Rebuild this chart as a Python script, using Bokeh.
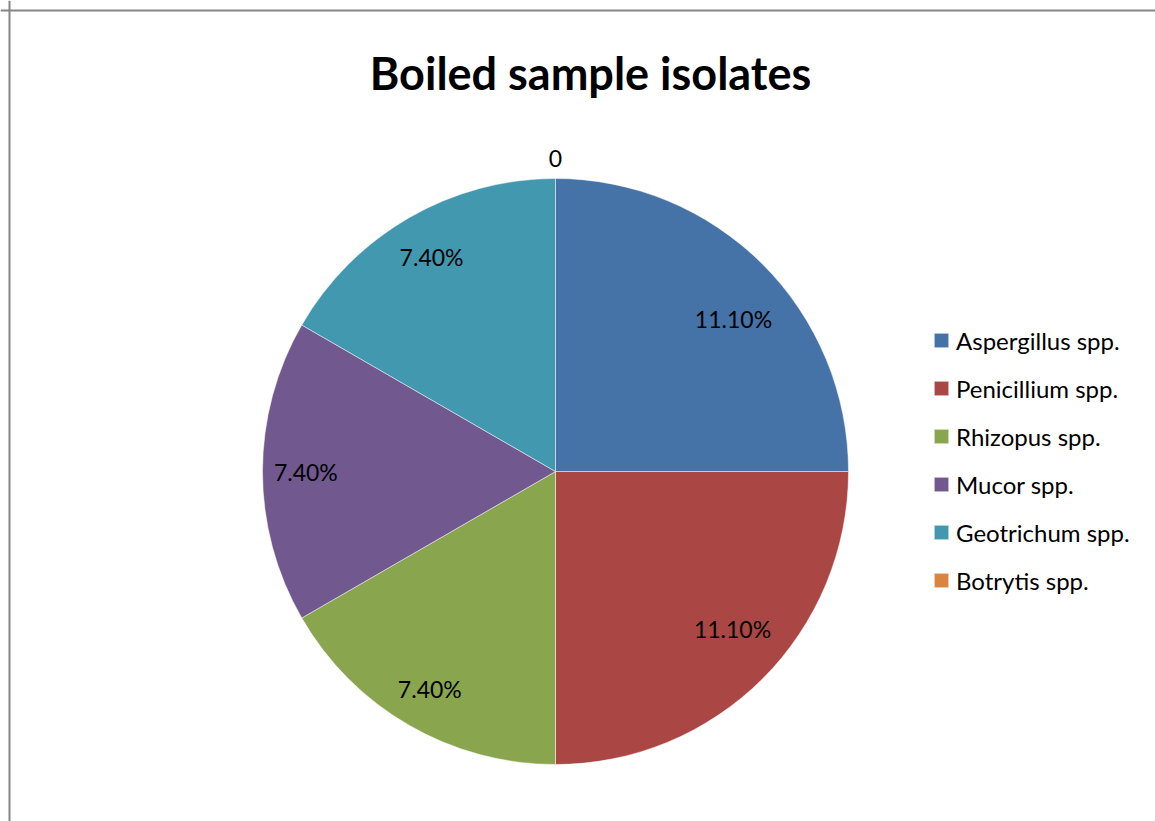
import numpy as np
from bokeh.plotting import figure
from bokeh.models import Range1d, Span, Legend, LegendItem, ColumnDataSource
from bokeh.core.properties import value
from bokeh.embed import file_html
from bokeh.resources import INLINE

# ---- data ----
title_text = "Boiled sample isolates"
categories = ["Aspergillus spp.", "Penicillium spp.", "Rhizopus spp.",
              "Mucor spp.", "Geotrichum spp.", "Botrytis spp."]
values = [11.1, 11.1, 7.4, 7.4, 7.4, 0.0]
value_labels = ["11.10%", "11.10%", "7.40%", "7.40%", "7.40%", "0"]

# ---- styles / layout ----
colors = ["#4572A7", "#AA4643", "#89A54E", "#71588F", "#4198AF", "#DB843D"]
label_radius_frac = [0.80, 0.808, 0.858, 0.852, 0.846, 1.068]
label_angle_nudge_deg = [-4.4, 3.4, 0.0, 0.0, 0.0, 0.0]
W, H = 1155, 821
cx, cy, R = 555, 350, 293
FONT = "Lato"

vals = np.array(values)
frac = vals / vals.sum()
cum = np.cumsum(frac)
start = np.pi / 2 - 2 * np.pi * (cum - frac)
end = np.pi / 2 - 2 * np.pi * cum
radius = np.where(vals > 0, R, 0.0)   # empty slice draws nothing
mid = (start + end) / 2 + np.radians(label_angle_nudge_deg)
lr = R * np.array(label_radius_frac)
lx = cx + lr * np.cos(mid)
ly = cy + lr * np.sin(mid)

src = ColumnDataSource(dict(cat=categories, start=start, end=end, color=colors,
                            radius=radius, lx=lx, ly=ly, lab=value_labels))

p = figure(width=W, height=H, x_range=Range1d(0, W), y_range=Range1d(0, H),
           output_backend="svg", toolbar_location=None,
           x_axis_type=None, y_axis_type=None, min_border=0)
p.grid.visible = False
p.outline_line_color = None
p.background_fill_color = "white"
p.border_fill_color = "white"

wedges = p.wedge(x=cx, y=cy, radius="radius", start_angle="start", end_angle="end",
                 direction="clock", fill_color="color", line_color="white",
                 line_width=0.8, line_alpha=0.6, source=src)

p.text(x="lx", y="ly", text="lab", source=src, text_align="center",
       text_baseline="middle", text_font=value(FONT), text_font_size="23px",
       text_color="black")

p.text(x=[590], y=[749], text=[title_text], text_align="center",
       text_baseline="alphabetic", text_font=value(FONT),
       text_font_style="bold", text_font_size="45px", text_color="black")

# chart-area border (left and top are visible in the reference)
p.add_layout(Span(location=9, dimension="height", line_color="#868686", line_width=2))
p.add_layout(Span(location=H - 10, dimension="width", line_color="#868686", line_width=2))

items = [LegendItem(label=c, renderers=[wedges], index=i) for i, c in enumerate(categories)]
legend = Legend(items=items, location=(932, 226), orientation="vertical",
                glyph_width=18, glyph_height=18, label_height=30, spacing=18,
                label_standoff=6, padding=0, margin=0,
                border_line_color=None, background_fill_alpha=0,
                label_text_font=FONT, label_text_font_size="24px",
                label_text_color="black")
p.add_layout(legend)

open("out.html", "w").write(file_html(p, INLINE))
